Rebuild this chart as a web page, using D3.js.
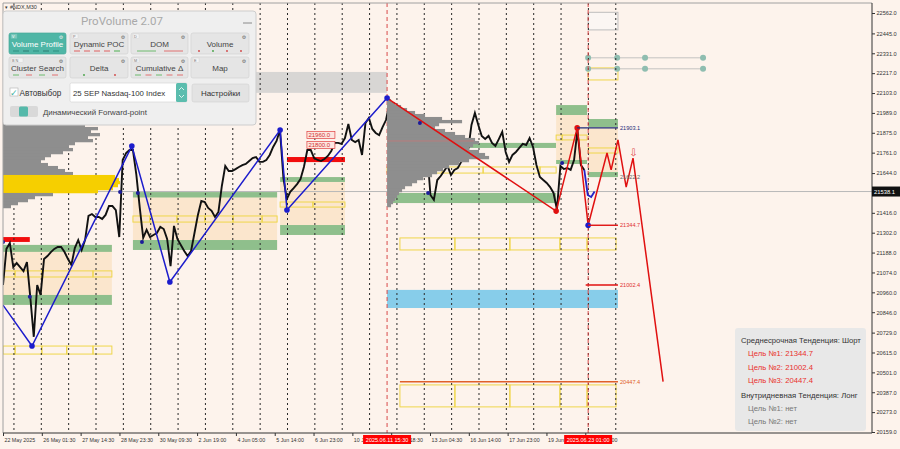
<!DOCTYPE html>
<html><head><meta charset="utf-8">
<script src="https://cdn.jsdelivr.net/npm/d3@7"></script>
<style>
html,body{margin:0;padding:0;background:#fdf3ec;}
svg{display:block;font-family:"Liberation Sans",Arial,sans-serif;}
</style></head><body>
<svg id="c" width="900" height="449"></svg>
<script>
// ---------------- DATA ----------------
const symbol = "#NDX,M30";
const yTicks = [22562,22445,22331,22217,22103,21989,21875,21761,21644,21416,21302,21188,21074,20960,20846,20729,20615,20501,20387,20273,20159];
const lastPrice = 21538.1;
const timeLabels = ["22 May 2025","26 May 01:30","27 May 14:30","28 May 23:30","30 May 09:30","2 Jun 19:00","4 Jun 05:00","5 Jun 14:00","6 Jun 23:00","10 Jun 09:00","11 Jun 18:30","13 Jun 04:30","16 Jun 14:00","17 Jun 23:00","19 Jun 08:30","20 Jun 18:00"];
const timeLabelStart = -0.4, timeLabelStep = 1.419;   // in trading-day units
const dayCount = 23;                                   // day separators
const markerDays = [13.64, 20.99];
const markerLabels = ["2025.06.11 15:30","2025.06.23 01:00"];

// M30 closes, one every 1/8 day from day -0.4
const priceStartDay = -0.4, priceStepDay = 0.125;
const closes = [21002,21209,21243,21105,21128,21105,21082,21134,20928,20705,
 21002,20945,21151,21168,21191,21209,21220,21220,21191,21151,
 21117,21214,21260,21203,21260,21398,21409,21392,21392,21381,
 21404,21455,21455,21432,21277,21719,21759,21776,21776,21633,
 21444,21272,21318,21277,21289,21300,21335,21323,21266,21110,
 21341,21266,21232,21197,21168,21197,21300,21404,21484,21478,
 21444,21427,21392,21421,21570,21685,21656,21656,21667,21679,
 21690,21696,21713,21730,21736,21708,21708,21719,21748,21794,
 21828,21891,21616,21495,21536,21558,21581,21610,21679,21776,
 21776,21730,21719,21713,21725,21742,21771,21817,21817,21811,
 21845,21925,21834,21822,21834,21748,21931,21960,21897,21874,
 21862,21908,21948,22040,21903,21880,21850,21830,21810,21790,
 21820,21850,21870,21860,21776,21518,21490,21604,21627,21656,
 21685,21633,21662,21673,21708,21736,21771,21920,21989,21920,
 21857,21839,21857,21817,21799,21839,21880,21765,21708,21748,
 21765,21788,21811,21805,21845,21794,21690,21622,21604,21587,
 21564,21530,21435,21685,21667,21673,21662,21719,21890,21690,
 21662,21518,21507,21538];

// ZigZag swings [day, price]
const blueZZ = [[-0.40,20887],[0.66,20652],[4.31,21799],[5.70,21019],[9.73,21891],[9.98,21432],[13.64,22074]];
const redZZ  = [[13.64,22074],[19.82,21426],[20.59,21903.1],[20.99,21344.7]];
const forecast = [[20.99,21344.7],[21.68,21759],[21.83,21662],[22.08,21834],[22.38,21564],[22.63,21730],[23.73,20447.4]];
const fractals = [[-0.40,21249],[0.58,20934],[3.88,21536],[4.53,21530],[4.68,21249],[14.84,21931],[15.14,21530],[20.04,21702]];

// Volume profiles (bins of 17.2 pts from top price)
const profileStep = 17.2;
const profile1Top = 21960, profile1Day = -0.4;
const profile1Vol = [30,62,82,95,88,97,85,90,72,66,70,60,48,42,38,45,55,62,70,112,116,117,115,110,95,50,32,25,15,8];
const profile1VA = [21540, 21640];
const profile2Top = 22069, profile2Day = 13.64;
const profile2Vol = [4,8,14,20,28,38,55,75,52,48,58,68,78,88,92,86,82,92,98,102,82,72,62,56,50,45,36,30,25,18,15,12,10,8,6,4];
const profile2POC = 21828;

// Zones: [d0, d1, greenTopHi, greenTopLo, yellowHi, yellowLo, greenBotHi, greenBotLo, beigeFill, splits]
const zones = [
 [-0.40, 3.58, 21232,21192, 21083,21048, 20945,20888, true,  [0.04,1.02,2.89]],
 [ 4.35, 9.62, 21535,21504, 21398,21363, 21260,21203, true,  [4.97,5.96,6.98,8.01,9.07]],
 [ 9.73,12.10, 21621,21593, 21478,21449, 21346,21289, true,  [9.98,10.93]],
 [13.64,19.82, 21817,21788, 21679,21644, 21530,21472, false, [15.65,17.15,19.23]],
 [19.82,20.95, 22034,21977, 21862,21834, 21719,21696, true,  [20.04]],
 [20.99,22.08, 21954,21908, 21788,21759, 21650,21621, true,  []]
];
// Extra yellow box rows: [d0, d1, hi, lo, splits]
const yellowRows = [
 [-0.40, 3.58, 20652,20606, [0.04,1.02,1.93,2.89]],
 [14.11,22.01, 21272,21203, [16.12,18.13,19.96,20.95]],
 [14.11,22.01, 20429,20303, [16.12,18.13,19.96,20.95]],
 [20.99,22.08, 22247,22178, []]
];
const blueBand = [13.64,22.08, 20974,20870];
const redBars = [[-0.40,0.58,21277,21249],[9.98,12.10,21736,21707]];
const grayBand = [-0.40,13.64,22224,22104];
const topBox = [20.99,22.08,22566,22465];
const topDotRows = [22305,22242];
const topDotDays = [20.99,22.05,23.07,25.19];
const alertLabels = [[10.71,21862,"21960.0"],[10.71,21805,"21800.0"]];

// Target levels
const shortTargets = [21344.7, 21002.4, 20447.4];
const levelPOC = 21903.1, levelMid = 21622.2;

// ---------------- SCALES ----------------
const svg = d3.select("#c");
const x = d3.scaleLinear().domain([-0.4, 31.33]).range([3, 871]);
const y = d3.scaleLinear().domain([20159, 22562]).range([432, 13]);
const vol = d3.scaleLinear().domain([0, 100]).range([0, 100]);

svg.append("rect").attr("width",900).attr("height",449).attr("fill","#fdf3ec");
svg.append("defs").append("clipPath").attr("id","clip").append("rect")
  .attr("x",3).attr("y",3).attr("width",869).attr("height",430);
const g = svg.append("g").attr("clip-path","url(#clip)");

const BEIGE="#fbe6cd", GREEN="#8fbf8c", YEL="#efd64a";
function rectP(sel,d0,d1,p0,p1){
  return sel.append("rect").attr("x",x(d0)).attr("width",x(d1)-x(d0))
    .attr("y",y(p0)).attr("height",y(p1)-y(p0));
}
function yBoxes(d0,d1,hi,lo,splits){
  const e=[d0,...splits,d1];
  for(let i=0;i<e.length-1;i++){
    rectP(g,e[i],e[i+1],hi,lo).attr("fill","none").attr("stroke",YEL).attr("stroke-width",1);
  }
}

// gray band
rectP(g,grayBand[0],grayBand[1],grayBand[2],grayBand[3]).attr("fill","#d8d6d4");

// zones
zones.forEach(z=>{
  const [d0,d1,a,b,c,d,e,f,fill,splits]=z;
  if(fill) rectP(g,d0,d1,a,f).attr("fill",BEIGE);
  rectP(g,d0,d1,a,b).attr("fill",GREEN);
  rectP(g,d0,d1,e,f).attr("fill",GREEN);
  yBoxes(d0,d1,c,d,splits);
});
yellowRows.forEach(r=>yBoxes(r[0],r[1],r[2],r[3],r[4]));
rectP(g,blueBand[0],blueBand[1],blueBand[2],blueBand[3]).attr("fill","#87cdea");
redBars.forEach(r=>rectP(g,r[0],r[1],r[2],r[3]).attr("fill","#f20d0d"));

// top right box & dot rows
rectP(g,topBox[0],topBox[1],topBox[2],topBox[3]).attr("fill","#fbf6f3").attr("stroke","#bdbdbd");
topDotRows.forEach(p=>{
  g.append("line").attr("x1",x(topDotDays[0])).attr("x2",x(topDotDays[topDotDays.length-1]))
   .attr("y1",y(p)).attr("y2",y(p)).attr("stroke","#b5b5b5").attr("stroke-width",0.8);
  topDotDays.forEach(d=>g.append("circle").attr("cx",x(d)).attr("cy",y(p)).attr("r",3).attr("fill","#8fbdb0"));
});

// day separators
d3.range(dayCount).forEach(k=>{
  g.append("line").attr("x1",x(k)).attr("x2",x(k)).attr("y1",3).attr("y2",433)
   .attr("stroke","#2a2a2a").attr("stroke-width",1).attr("stroke-dasharray","2,3");
});
markerDays.forEach(d=>{
  g.append("line").attr("x1",x(d)).attr("x2",x(d)).attr("y1",3).attr("y2",433)
   .attr("stroke","#d84a4a").attr("stroke-width",1).attr("stroke-dasharray","4,3");
});
// current price line
g.append("line").attr("x1",3).attr("x2",872).attr("y1",y(lastPrice)).attr("y2",y(lastPrice))
 .attr("stroke","#b8b8b8").attr("stroke-width",1);

// price line
const pts = closes.map((c,i)=>[priceStartDay+i*priceStepDay,c]);
const line = d3.line().x(d=>x(d[0])).y(d=>y(d[1]));
g.append("path").attr("d",line(pts.slice(0,pts.length-3))).attr("fill","none")
 .attr("stroke","#111").attr("stroke-width",1.9).attr("stroke-linejoin","miter");
g.append("path").attr("d",line(pts.slice(pts.length-4))).attr("fill","none")
 .attr("stroke","#2323c8").attr("stroke-width",1.8);

// profiles
function drawProfile(top,day,vols,va){
  vols.forEach((v,i)=>{
    const p=top-i*profileStep;
    const inVA = va && p>=va[0] && p<=va[1];
    g.append("rect").attr("x",x(day)).attr("y",y(p)).attr("width",vol(v))
     .attr("height",y(p-profileStep)-y(p)+0.3).attr("fill",inVA?"#f6cf00":"#8e8e8e");
  });
}
drawProfile(profile1Top,profile1Day,profile1Vol,profile1VA);
drawProfile(profile2Top,profile2Day,profile2Vol,null);
g.append("line").attr("x1",x(profile2Day)).attr("x2",x(profile2Day)+vol(d3.max(profile2Vol))*0.85)
 .attr("y1",y(profile2POC)).attr("y2",y(profile2POC)).attr("stroke","#e07070").attr("stroke-width",0.7).attr("opacity",0.8);

// zigzags
g.append("path").attr("d",line(blueZZ)).attr("fill","none").attr("stroke","#1c1ccc").attr("stroke-width",1.5);
g.append("path").attr("d",line(redZZ)).attr("fill","none").attr("stroke","#e01010").attr("stroke-width",1.5);
g.append("path").attr("d",line(forecast)).attr("fill","none").attr("stroke","#e01010").attr("stroke-width",1.5);
blueZZ.slice(1).forEach(d=>g.append("circle").attr("cx",x(d[0])).attr("cy",y(d[1])).attr("r",2.8).attr("fill","#1c1ccc"));
[redZZ[1],redZZ[2]].forEach(d=>g.append("circle").attr("cx",x(d[0])).attr("cy",y(d[1])).attr("r",2.8).attr("fill","#e01010"));
g.append("circle").attr("cx",x(redZZ[3][0])).attr("cy",y(redZZ[3][1])).attr("r",2.8).attr("fill","#1c1ccc");
fractals.forEach(d=>g.append("circle").attr("cx",x(d[0])).attr("cy",y(d[1])).attr("r",2).attr("fill","#1c1c9a"));

// level lines
const lvlEnd = 22.08;
const levels = [
 [redZZ[2][0], levelPOC, "#1b2a7a"],
 [redZZ[3][0], shortTargets[0], "#e01010"],
 [20.90, shortTargets[1], "#e01010"],
 [14.11, shortTargets[2], "#e0602a"]
];
levels.forEach(l=>{
  g.append("line").attr("x1",x(l[0])).attr("x2",x(lvlEnd)).attr("y1",y(l[1])).attr("y2",y(l[1]))
   .attr("stroke",l[2]).attr("stroke-width",1.4);
});
const lvlLabels = [[levelPOC,"#1b2a7a"],[levelMid,"#666"],[shortTargets[0],"#e03030"],[shortTargets[1],"#e03030"],[shortTargets[2],"#e0602a"]];
lvlLabels.forEach(l=>{
  svg.append("text").attr("x",x(lvlEnd)+2).attr("y",y(l[0])+2).attr("font-size",5.6)
   .attr("fill",l[1]).text(l[0].toFixed(1));
});
// forecast arrow
svg.append("text").attr("x",x(22.65)).attr("y",y(21765)+4).attr("text-anchor","middle")
 .attr("font-size",10).attr("font-family","DejaVu Sans").attr("fill","#e04848").text("⇩");

// alert labels
alertLabels.forEach(a=>{
  const gx=x(a[0]), gy=y(a[1]);
  svg.append("rect").attr("x",gx).attr("y",gy-3.5).attr("width",28).attr("height",7)
    .attr("fill","#fde6e0").attr("stroke","#e04040").attr("stroke-width",0.7);
  svg.append("text").attr("x",gx+1.5).attr("y",gy+2.2).attr("font-size",6).attr("fill","#d03030").text(a[2]);
});

// ---------------- AXES ----------------
svg.append("line").attr("x1",3).attr("x2",872).attr("y1",3).attr("y2",3).attr("stroke","#a0a0a0");
svg.append("line").attr("x1",3).attr("x2",3).attr("y1",3).attr("y2",433).attr("stroke","#a0a0a0");
svg.append("line").attr("x1",872).attr("x2",872).attr("y1",3).attr("y2",433).attr("stroke","#333");
svg.append("line").attr("x1",3).attr("x2",872).attr("y1",433).attr("y2",433).attr("stroke","#333");

const ya = svg.append("g").attr("transform","translate(872,0)")
  .call(d3.axisRight(y).tickValues(yTicks).tickFormat(d3.format(".1f")).tickSize(3).tickSizeOuter(0).tickPadding(1.5));
ya.select(".domain").remove();
ya.selectAll("text").attr("font-size",5.6).attr("fill","#333").attr("font-family","Liberation Sans, Arial");
ya.selectAll("line").attr("stroke","#333");

const tPos = timeLabels.map((_,i)=>timeLabelStart+i*timeLabelStep);
const xa = svg.append("g").attr("transform","translate(0,433)")
  .call(d3.axisBottom(x).tickValues(tPos).tickFormat((d,i)=>timeLabels[i]).tickSize(3).tickSizeOuter(0).tickPadding(2));
xa.select(".domain").remove();
xa.selectAll("text").attr("font-size",5.3).attr("fill","#333").attr("text-anchor","start").attr("dx",1).attr("font-family","Liberation Sans, Arial");
xa.selectAll("line").attr("stroke","#333");

// red time markers
markerDays.forEach((d,i)=>{
  svg.append("rect").attr("x",x(d)-24).attr("y",435).attr("width",48).attr("height",9).attr("fill","#f00");
  svg.append("text").attr("x",x(d)).attr("y",442).attr("text-anchor","middle").attr("font-size",5.5)
    .attr("fill","#fff").text(markerLabels[i]);
});
// current price tag
svg.append("rect").attr("x",872).attr("y",y(lastPrice)-5).attr("width",28).attr("height",10).attr("fill","#111");
svg.append("text").attr("x",874).attr("y",y(lastPrice)+2).attr("font-size",5.8).attr("fill","#fff").text(lastPrice.toFixed(1));

// ---------------- LEGEND ----------------
svg.append("rect").attr("x",735).attr("y",328).attr("width",131).attr("height",103).attr("rx",3).attr("fill","#e8e8e8");
const legendLines = [
 ["Среднесрочная Тенденция: Шорт","#333",741],
 ["Цель №1: "+shortTargets[0].toFixed(1),"#e8302c",748],
 ["Цель №2: "+shortTargets[1].toFixed(1),"#e8302c",748],
 ["Цель №3: "+shortTargets[2].toFixed(1),"#e8302c",748],
 ["Внутридневная Тенденция: Лонг","#333",741],
 ["Цель №1: нет","#777",748],
 ["Цель №2: нет","#777",748]
];
const legY=[343,356,370,383,398,411,424];
legendLines.forEach((l,i)=>svg.append("text").attr("x",l[2]).attr("y",legY[i]).attr("font-size",7.7).attr("fill",l[1]).text(l[0]));

// ---------------- PANEL ----------------
svg.append("text").attr("x",5).attr("y",9).attr("font-size",5).attr("fill","#333").text("▾");
svg.append("text").attr("x",10).attr("y",9).attr("font-size",5.5).attr("fill","#333").text(symbol);
const P = svg.append("g");
P.append("rect").attr("x",3).attr("y",11).attr("width",253).attr("height",114).attr("rx",3)
 .attr("fill","#efefef").attr("stroke","#cdcdcd");
P.append("text").attr("x",122).attr("y",25).attr("text-anchor","middle").attr("font-size",11.5)
 .attr("fill","#a9a9a9").attr("font-family","Roboto, Liberation Sans, sans-serif").text("ProVolume 2.07");
P.append("line").attr("x1",243).attr("x2",252).attr("y1",23).attr("y2",23).attr("stroke","#8a8a8a").attr("stroke-width",1);
const btns = [
 [9,33,57,"Volume Profile","V",true,"teal"],
 [70,33,58,"Dynamic POC","P",false,"rdash"],
 [131,33,57,"DOM","D",false,"dom"],
 [191,33,58,"Volume","",false,"dots"],
 [9,57,57,"Cluster Search","B N",false,"grgr"],
 [70,57,58,"Delta","",false,"delta"],
 [131,57,57,"Cumulative Δ","M",false,"grgr"],
 [191,57,58,"Map","E",false,"none"]
];
btns.forEach(b=>{
  const [bx,by,bw,label,tag,act,mk]=b, bh=21;
  P.append("rect").attr("x",bx).attr("y",by).attr("width",bw).attr("height",bh).attr("rx",2)
   .attr("fill",act?"#4fb6a6":"#e5e5e5").attr("stroke",act?"#48a999":"#d3d3d3").attr("stroke-width",0.7);
  if(tag){
    P.append("rect").attr("x",bx+2).attr("y",by+1).attr("width",tag.length>1?12:6).attr("height",4.5)
     .attr("fill",act?"#7cc9bd":"#f3f3f3").attr("stroke",act?"#6cbcaf":"#d0d0d0").attr("stroke-width",0.4);
    P.append("text").attr("x",bx+3).attr("y",by+4.7).attr("font-size",3.8).attr("fill",act?"#fff":"#777").text(tag);
  }
  P.append("text").attr("x",bx+bw-5).attr("y",by+5.5).attr("text-anchor","middle").attr("font-size",5)
   .attr("font-family","DejaVu Sans").attr("fill",act?"#eee":"#666").text("⚙");
  P.append("text").attr("x",bx+bw/2).attr("y",by+13.5).attr("text-anchor","middle").attr("font-size",8)
   .attr("fill",act?"#fff":"#444").text(label);
  const sy=by+bh-3;
  const seg=(x1,x2,c)=>P.append("line").attr("x1",x1).attr("x2",x2).attr("y1",sy).attr("y2",sy).attr("stroke",c).attr("stroke-width",1);
  const dot=(cx,c)=>P.append("circle").attr("cx",cx).attr("cy",sy).attr("r",0.9).attr("fill",c);
  if(mk==="teal"){ [0,1,2,3,4].forEach(k=>seg(bx+4+k*10,bx+10+k*10,k%2?"#2e7d72":"#2f8f80")); }
  if(mk==="rdash"){ [0,1,2,3,4].forEach(k=>seg(bx+4+k*10,bx+10+k*10,k==4?"#4caf50":"#e06060")); }
  if(mk==="dom"){ seg(bx+6,bx+25,"#6cba6c"); seg(bx+33,bx+52,"#e07070"); }
  if(mk==="dots"){ ["#d04040","#40a040","#d04040","#d04040"].forEach((c,k)=>dot(bx+8+k*14,c)); }
  if(mk==="grgr"){ ["#6cba6c","#e07070","#6cba6c","#e07070","#e07070"].slice(0,label==="Cluster Search"?4:5).forEach((c,k)=>seg(bx+4+k*(label==="Cluster Search"?13:10.5),bx+10+k*(label==="Cluster Search"?13:10.5),c)); }
  if(mk==="delta"){ dot(bx+14,"#40a040"); dot(bx+45,"#d04040"); }
});
// row 3
P.append("rect").attr("x",10).attr("y",88).attr("width",8).attr("height",8).attr("fill","#fff").attr("stroke","#b0b0b0").attr("stroke-width",0.6);
P.append("text").attr("x",10).attr("y",96).attr("font-size",9).attr("font-family","DejaVu Sans").attr("fill","#3fb2a2").text("✓");
P.append("text").attr("x",19.5).attr("y",96).attr("font-size",8.2).attr("fill","#333").text("Автовыбор");
P.append("rect").attr("x",70).attr("y",83).attr("width",117).attr("height",19).attr("rx",1.5).attr("fill","#fff").attr("stroke","#d0d0d0").attr("stroke-width",0.6);
P.append("text").attr("x",73).attr("y",95.5).attr("font-size",7.8).attr("fill","#333").text("25 SEP Nasdaq-100 Index");
P.append("rect").attr("x",176).attr("y",83).attr("width",11).attr("height",19).attr("rx",1.5).attr("fill","#5bbdae");
P.append("path").attr("d","M179,90 L181.5,87.5 L184,90 M179,95 L181.5,97.5 L184,95").attr("fill","none").attr("stroke","#fff").attr("stroke-width",0.8);
P.append("rect").attr("x",192).attr("y",84).attr("width",57).attr("height",18).attr("rx",2).attr("fill","#e3e3e3").attr("stroke","#d0d0d0").attr("stroke-width",0.6);
P.append("text").attr("x",220.5).attr("y",96).attr("text-anchor","middle").attr("font-size",8).attr("fill","#333").text("Настройки");
// row 4
P.append("rect").attr("x",10).attr("y",106).attr("width",28).attr("height",11).attr("rx",2).attr("fill","#d9d9d9");
P.append("rect").attr("x",19).attr("y",106.5).attr("width",9).attr("height",10).attr("rx",1.5).attr("fill","#55b9aa");
P.append("text").attr("x",43).attr("y",115).attr("font-size",7.9).attr("fill","#444").text("Динамический Forward-point");
</script>
</body></html>
